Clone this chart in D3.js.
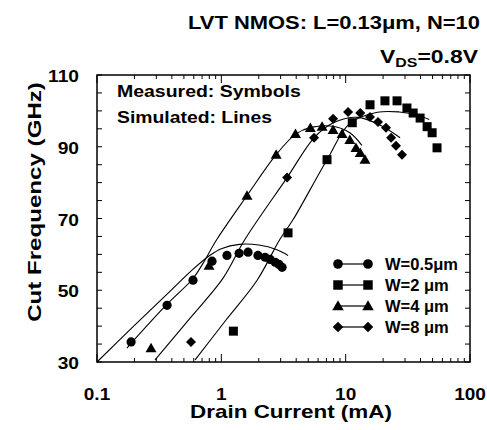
<!DOCTYPE html>
<html><head><meta charset="utf-8">
<script src="https://cdn.jsdelivr.net/npm/d3@7"></script>
<style>
body{margin:0;background:#fff}
svg{display:block}
text{font-family:"Liberation Sans",Arial,Helvetica,sans-serif;font-weight:bold;fill:#000}
</style>
</head><body>
<svg id="chart" width="487" height="430"></svg>
<script>
// ---------------- data ----------------
const xTickValues = [0.1, 1, 10, 100];
const xTickLabels = ["0.1", "1", "10", "100"];
const yTickValues = [30, 50, 70, 90, 110];
const yTickLabels = ["30", "50", "70", "90", "110"];
const seriesNames = ["W=0.5μm", "W=2 μm", "W=4 μm", "W=8 μm"];

// measured (symbols): drain current (mA), cut frequency (GHz)
const measCurrentW05 = [0.188, 0.366, 0.592, 0.842, 1.11, 1.39, 1.64, 1.97, 2.25, 2.47, 2.71, 2.91, 3.08];
const measFreqW05    = [35.6, 45.8, 52.8, 58.1, 59.7, 60.3, 60.6, 59.7, 59.2, 58.6, 57.8, 57.2, 56.4];
const measCurrentW2  = [1.25, 3.44, 7.08, 11.3, 15.7, 20.7, 25.9, 31.1, 34.9, 39.7, 45.2, 49.6, 54.3];
const measFreqW2     = [38.6, 66.0, 86.4, 96.7, 101.7, 102.8, 102.8, 100.8, 99.4, 98.0, 95.6, 93.9, 89.7];
const measCurrentW4  = [0.272, 0.796, 1.61, 2.76, 3.95, 5.2, 6.46, 7.92, 9.36, 10.8, 12.1, 13.1, 14.3];
const measFreqW4     = [33.9, 56.9, 76.4, 87.8, 93.6, 95.3, 95.6, 94.7, 93.6, 91.9, 89.7, 88.3, 86.4];
const measCurrentW8  = [0.57, 3.38, 5.57, 7.92, 10.45, 13.1, 15.7, 18.2, 21.1, 23.2, 25.4, 28.4];
const measFreqW8     = [35.6, 81.4, 92.5, 97.8, 99.7, 99.4, 98.3, 96.9, 95.3, 92.5, 90.3, 87.8];

// simulated (lines)
const simCurrentW05 = [0.1, 0.188, 0.366, 0.59, 0.8, 1.0, 1.4, 2.0, 2.8, 3.44];
const simFreqW05    = [30, 39.3, 48.9, 55.8, 59.6, 61.6, 62.8, 62.6, 61.3, 59.7];
const simCurrentW2  = [0.615, 1.09, 1.94, 2.96, 3.78, 7.08, 10.8, 18, 27, 38, 47];
const simFreqW2     = [30.6, 41.7, 52.8, 64.2, 69.7, 86.4, 96.5, 99.6, 99.7, 98.8, 97.6];
const simCurrentW4  = [0.174, 0.366, 0.59, 0.712, 0.922, 1.61, 2.76, 3.98, 5.27, 7.9, 10.8, 13.5];
const simFreqW4     = [33.9, 46.1, 53.2, 57.5, 64.2, 76.4, 87.8, 93.6, 95.4, 95.7, 93.9, 90.4];
const simCurrentW8  = [0.293, 0.55, 1.03, 1.55, 3.38, 5.57, 7.9, 12.4, 19, 27.4];
const simFreqW8     = [30.6, 41.9, 53.3, 64.2, 81.4, 92.5, 96.6, 98.2, 96.0, 92.5];

// ---------------- drawing ----------------
const svg = d3.select("#chart");
const W = 487, H = 430;
const plot = {left: 97, right: 470, top: 75, bottom: 362};

const x = d3.scaleLog().domain([0.1, 100]).range([plot.left, plot.right]);
const y = d3.scaleLinear().domain([30, 110]).range([plot.bottom, plot.top]);

const zip = (a, b) => a.map((v, i) => [v, b[i]]);
const series = [
  {name: seriesNames[0], shape: "circle",   meas: zip(measCurrentW05, measFreqW05), sim: zip(simCurrentW05, simFreqW05)},
  {name: seriesNames[1], shape: "square",   meas: zip(measCurrentW2,  measFreqW2),  sim: zip(simCurrentW2,  simFreqW2)},
  {name: seriesNames[2], shape: "triangle", meas: zip(measCurrentW4,  measFreqW4),  sim: zip(simCurrentW4,  simFreqW4)},
  {name: seriesNames[3], shape: "diamond",  meas: zip(measCurrentW8,  measFreqW8),  sim: zip(simCurrentW8,  simFreqW8)}
];

// stretched bold text helper
function label(str, tx, ty, anchor, size, targetW, rot) {
  const t = svg.append("text").attr("text-anchor", anchor).attr("font-size", size);
  if (typeof str === "function") str(t); else t.text(str);
  const w = t.node().getComputedTextLength();
  const s = targetW ? targetW / w : 1;
  t.attr("transform", `translate(${tx},${ty}) rotate(${rot || 0}) scale(${s},1)`);
  return t;
}

// simulated lines
const line = d3.line().x(d => x(d[0])).y(d => y(d[1])).curve(d3.curveCatmullRom.alpha(0.5));
series.forEach(s => {
  svg.append("path").attr("d", line(s.sim)).attr("fill", "none")
    .attr("stroke", "#000").attr("stroke-width", 1.1);
});

// markers
function marker(g, shape, cx, cy, scale) {
  scale = scale || 1;
  if (shape === "circle") {
    g.append("circle").attr("cx", cx).attr("cy", cy).attr("r", 4.6 * scale).attr("fill", "#000");
  } else if (shape === "square") {
    const a = 9 * scale;
    g.append("rect").attr("x", cx - a / 2).attr("y", cy - a / 2).attr("width", a).attr("height", a).attr("fill", "#000");
  } else if (shape === "triangle") {
    g.append("path").attr("d", d3.symbol(d3.symbolTriangle, 52 * scale * scale)())
      .attr("transform", `translate(${cx},${cy + 1})`).attr("fill", "#000");
  } else {
    g.append("path").attr("d", d3.symbol(d3.symbolSquare, 50 * scale * scale)())
      .attr("transform", `translate(${cx},${cy}) rotate(45)`).attr("fill", "#000");
  }
}
const mg = svg.append("g");
series.forEach(s => s.meas.forEach(d => marker(mg, s.shape, x(d[0]), y(d[1]))));

// frame
svg.append("rect").attr("x", plot.left).attr("y", plot.top)
  .attr("width", plot.right - plot.left).attr("height", plot.bottom - plot.top)
  .attr("fill", "none").attr("stroke", "#000").attr("stroke-width", 1.5);

// y ticks (inside, left and right)
const yMinor = d3.range(30, 111, 5);
const tg = svg.append("g").attr("stroke", "#000").attr("stroke-width", 1);
yMinor.forEach(v => {
  tg.append("line").attr("x1", plot.left).attr("x2", plot.left + 5).attr("y1", y(v)).attr("y2", y(v));
  tg.append("line").attr("x1", plot.right).attr("x2", plot.right - 5).attr("y1", y(v)).attr("y2", y(v));
});
// x ticks (inside, bottom and top)
const xMinor = [];
[0.1, 1, 10].forEach(dec => { for (let k = 1; k <= 9; k++) xMinor.push({v: dec * k, major: k === 1}); });
xMinor.push({v: 100, major: true});
xMinor.forEach(t => {
  const L = t.major ? 8 : 4;
  tg.append("line").attr("x1", x(t.v)).attr("x2", x(t.v)).attr("y1", plot.bottom).attr("y2", plot.bottom - L);
  tg.append("line").attr("x1", x(t.v)).attr("x2", x(t.v)).attr("y1", plot.top).attr("y2", plot.top + L);
});

// tick labels
yTickValues.forEach((v, i) => label(yTickLabels[i], 79, y(v) + 7, "end", 17, null).attr("transform",
  function(){ return d3.select(this).attr("transform").replace("scale(1,1)", "scale(1.13,1)"); }));
xTickValues.forEach((v, i) => {
  const t = label(xTickLabels[i], x(v), 400, "middle", 17, null);
  t.attr("transform", t.attr("transform").replace("scale(1,1)", "scale(1.12,1)"));
});

// axis titles
label("Drain Current (mA)", 291, 418, "middle", 18, 202);
label("Cut Frequency (GHz)", 41, 202, "middle", 18, 240, -90);

// title
label("LVT NMOS: L=0.13μm, N=10", 480, 29, "end", 17.5, 292);
label(t => {
  t.append("tspan").text("V");
  t.append("tspan").attr("font-size", 12.5).attr("dy", 4).text("DS");
  t.append("tspan").attr("dy", -4).text("=0.8V");
}, 478, 63, "end", 18, 98);

// annotations
label("Measured: Symbols", 117, 97, "start", 17, 184);
label("Simulated: Lines", 117, 123, "start", 17, 155);

// legend
const legendY = [264, 285, 306, 327];
series.forEach((s, i) => {
  const ly = legendY[i];
  svg.append("line").attr("x1", 338).attr("x2", 368).attr("y1", ly).attr("y2", ly)
    .attr("stroke", "#000").attr("stroke-width", 1.2);
  marker(svg, s.shape, 338, ly, 1.05);
  marker(svg, s.shape, 368, ly, 1.05);
  svg.append("text").attr("x", 385).attr("y", ly + 6).attr("font-size", 16.5).text(s.name);
});
</script>
</body></html>
